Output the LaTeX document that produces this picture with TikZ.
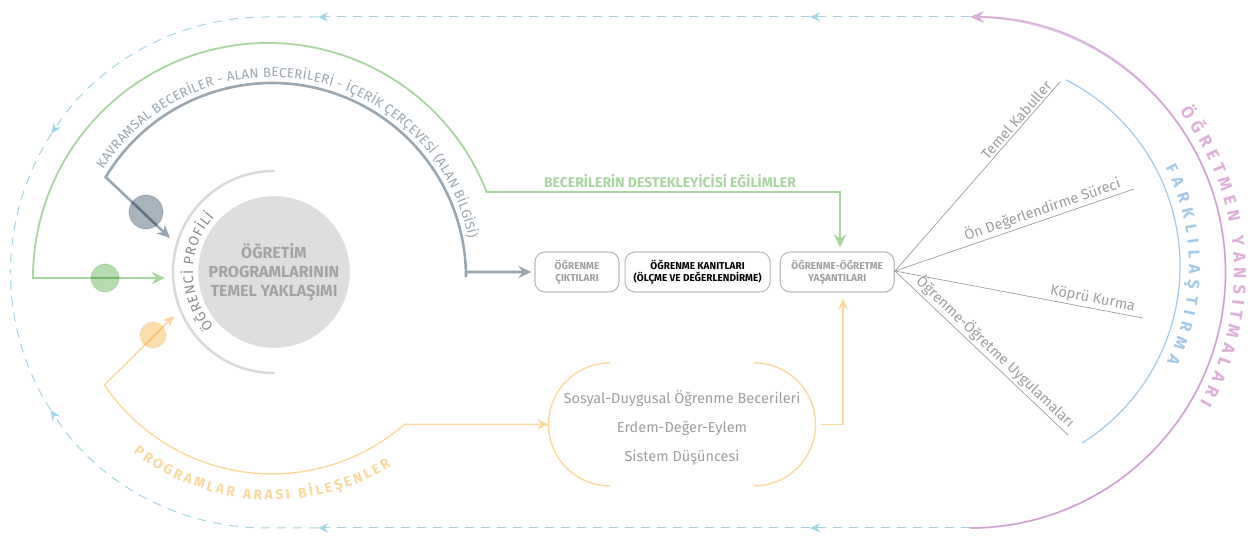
\documentclass[tikz,border=0pt]{standalone}
\usepackage{fontspec}
\setmainfont{Fira Sans}
\usetikzlibrary{positioning,arrows.meta,decorations.text}

\definecolor{loopc}{HTML}{A3D6E4}
\definecolor{pinkc}{HTML}{DDB0D9}
\definecolor{purpc}{HTML}{A78CC4}
\definecolor{bluec}{HTML}{A6C9E8}
\definecolor{greenc}{HTML}{A9D5A0}
\definecolor{slatec}{HTML}{9AA6B0}
\definecolor{orangec}{HTML}{FCD89E}
\definecolor{labelc}{HTML}{9E9E9E}
\definecolor{boxc}{HTML}{B4BCC3}
\definecolor{ringc}{HTML}{ECEBE5}
\definecolor{corec}{HTML}{DEDEDE}
\definecolor{profc}{HTML}{DADADA}

\begin{document}
\begin{tikzpicture}[x=1pt,y=1pt]
  \tikzstyle{box}=[rectangle,draw=boxc,line width=1.1pt,rounded corners=10pt,minimum height=40pt,
    inner sep=2pt,align=center,text=labelc,font=\fontsize{10}{12}\selectfont\bfseries]
  \tikzstyle{loopline}=[loopc,line width=1pt,dash pattern=on 9pt off 7pt,>={Stealth[length=10pt,width=9pt]}]
  \tikzstyle{fanline}=[labelc,line width=0.7pt]
  \tikzstyle{fanlbl}=[sloped,above,text=labelc,font=\fontsize{14.5}{14.5}\selectfont,inner sep=2pt]
  \tikzstyle{blob}=[circle,line width=1.5pt,fill opacity=.85,draw opacity=.5,blend mode=multiply]
  \tikzstyle{grnl}=[greenc,line width=1.8pt,>={Stealth[length=13pt,width=12pt]}]
  \tikzstyle{slatel}=[slatec,line width=2.6pt,>={Stealth[length=13pt,width=12pt]}]
  \tikzstyle{orl}=[orangec,line width=1.4pt,>={Stealth[length=11pt,width=10pt]}]
  \tikzstyle{arctext}=[decorate,decoration={text along path,text align={fit to path}}]

  \useasboundingbox (0,0) rectangle (1252,540);

  % teacher reflections
  \coordinate (lt) at (970,523);
  \coordinate (lb) at (970,12);
  \draw[pinkc,line width=1.8pt,-{Stealth[length=14pt,width=12pt]}] (lb) arc[start angle=-90,end angle=90,radius=255.5];
  \draw[purpc,line width=0.5pt,opacity=.6] (lb) arc[start angle=-90,end angle=86,radius=255.5];
  \path[arctext,decoration={text color=pinkc,text={|\fontsize{17}{17}\selectfont\bfseries|ÖĞRETMEN YANSITMALARI}}]
    (970,267.5) ++(37.5:264) arc[start angle=37.5,end angle=-29.5,radius=264];

  % dashed loop
  \coordinate (t1) at (810,523);
  \coordinate (t2) at (318,523);
  \coordinate (tl) at (266,523);
  \coordinate (u1) at (810,12);
  \coordinate (u2) at (318,12);
  \coordinate (ul) at (266,12);
  \draw[loopline,->] (lt) -- (t1);
  \draw[loopline,->] (t1) -- (t2);
  \draw[loopline,->] (t2) -- (tl) arc[start angle=90,end angle=147,radius=255.5] coordinate (ta);
  \draw[loopline] (ta) arc[start angle=147,end angle=180,radius=255.5];
  \draw[loopline,->] (lb) -- (u1);
  \draw[loopline,->] (u1) -- (u2);
  \draw[loopline,->] (u2) -- (ul) arc[start angle=270,end angle=212.6,radius=255.5] coordinate (ua);
  \draw[loopline] (ua) arc[start angle=212.6,end angle=180,radius=255.5];

  % differentiation
  \draw[bluec,line width=1.2pt] (971,274) ++(63:209) arc[start angle=63,end angle=-58,radius=209];
  \path[arctext,decoration={text color=bluec,text={|\fontsize{16}{16}\selectfont\bfseries|FARKLILAŞTIRMA}}]
    (971,274) ++(27:218) arc[start angle=27,end angle=-26,radius=218];

  % boxes
  \node[box,minimum width=84pt] (b1) at (577,268) {ÖĞRENME\\ÇIKTILARI};
  \node[box,minimum width=145pt,text=black,right=5pt of b1] (b2) {ÖĞRENME KANITLARI\\(ÖLÇME VE DEĞERLENDİRME)};
  \node[box,minimum width=114pt,right=9pt of b2] (b3) {ÖĞRENME-ÖĞRETME\\YAŞANTILARI};

  % fan
  \coordinate (fan) at (895,269);
  \coordinate (k1) at (1060,458);
  \coordinate (k2) at (1134,351);
  \coordinate (k3) at (1143,222);
  \coordinate (k4) at (1068,105);
  \draw[fanline] (fan) -- (k1) node[fanlbl,pos=0.77] {Temel Kabuller};
  \draw[fanline] (fan) -- (k2) node[fanlbl,pos=0.63] {Ön Değerlendirme Süreci};
  \draw[fanline] (fan) -- (k3) node[fanlbl,pos=0.79] {Köprü Kurma};
  \draw[fanline] (fan) -- (k4) node[fanlbl,pos=0.54] {Öğrenme-Öğretme Uygulamaları};

  % core
  \node[circle,fill=ringc,minimum size=152pt] (ring) at (274,268) {};
  \node[circle,fill=corec,minimum size=140pt,align=center,text=black!36,
    font=\fontsize{16}{19}\selectfont\bfseries] (core) at (ring) {ÖĞRETİM\\PROGRAMLARININ\\TEMEL YAKLAŞIMI};
  \draw[profc,line width=2.5pt,line cap=round] (274,369) arc[start angle=90,end angle=270,radius=101];
  \path[arctext,decoration={text color=black!45,text={|\fontsize{14}{14}\selectfont|ÖĞRENCİ PROFİLİ}}]
    (ring.center) ++(222:81) arc[start angle=222,end angle=137.5,radius=81];

  % concepts
  \coordinate (stip) at (170,302);
  \coordinate (s0) at (105.7,362.9);
  \draw[slatel,<->] (stip) -- (s0) arc[start angle=149,end angle=0,radius=194] |- ([xshift=-3pt]b1.west);
  \node[blob,fill=slatec,draw=slatec!50,minimum size=34pt] (sdot) at (146,328) {};
  \path[arctext,decoration={text color=slatec,text={|\fontsize{13.3}{13.3}\selectfont|KAVRAMSAL BECERİLER - ALAN BECERİLERİ - İÇERİK ÇERÇEVESİ (ALAN BİLGİSİ)}}]
    (272,263) ++(147.5:200) arc[start angle=147.5,end angle=11,radius=200];

  % dispositions
  \coordinate (gtip) at (165,262);
  \coordinate (g0) at (33,262);
  \coordinate (g1) at (840,348);
  \draw[grnl,<->,shorten >=4pt] (gtip) -- (g0) arc[start angle=180,end angle=21.5,radius=235] -- (g1) -- (g1 |- b3.north);
  \node[blob,fill=greenc,draw=greenc!50,minimum size=28pt] (gdot) at (105,262) {};
  \node[text=greenc,font=\fontsize{14}{14}\selectfont\bfseries] (gtxt) at (670,359) {BECERİLERİN DESTEKLEYİCİSİ EĞİLİMLER};

  % interdisciplinary
  \coordinate (otip) at (174,224);
  \coordinate (o0) at (104.5,155.1);
  \coordinate (pc) at (682,115.6);
  \coordinate (pl) at (548.5,115.6);
  \coordinate (pr) at (821,115.6);
  \coordinate (o2) at (843,115.6);
  \draw[orl,<->] (otip) -- (o0) arc[start angle=214,end angle=311,radius=202] -- (pl);
  \draw[orl] (pc) ++(-72,61.5) arc[start angle=90,end angle=270,radius=61.5];
  \draw[orl] (pc) ++(72,61.5) arc[start angle=90,end angle=-90,radius=61.5];
  \node[text=labelc,align=center,font=\fontsize{14.5}{29}\selectfont] (skills) at (682,112)
    {Sosyal-Duygusal Öğrenme Becerileri\\Erdem-Değer-Eylem\\Sistem Düşüncesi};
  \draw[orl,->,shorten >=6pt] (pr) -- (o2) -- (o2 |- b3.south);
  \node[blob,fill=orangec,draw=orangec!50,minimum size=26pt] (odot) at (153,205) {};
  \path[arctext,decoration={text color=orangec,text={|\fontsize{14}{14}\selectfont\bfseries|PROGRAMLAR ARASI BİLEŞENLER}}]
    (272,268) ++(232.5:228) arc[start angle=232.5,end angle=301.5,radius=228];
\end{tikzpicture}
\end{document}
